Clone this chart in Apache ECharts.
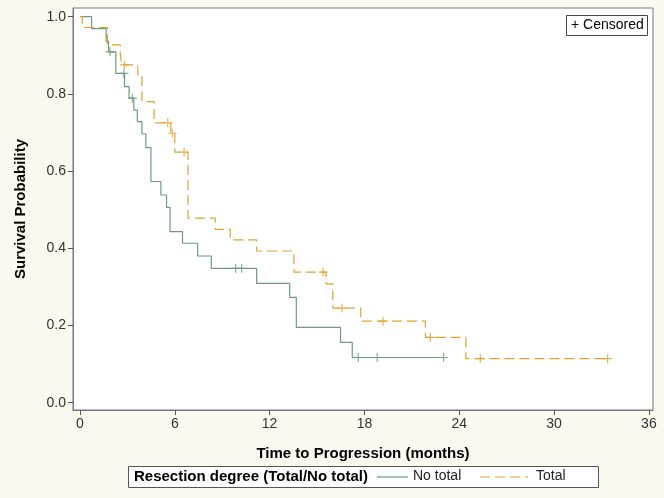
<!DOCTYPE html>
<html>
<head>
<meta charset="utf-8">
<script src="https://cdn.jsdelivr.net/npm/echarts@6/dist/echarts.min.js"></script>
<style>
html,body{margin:0;padding:0;background:#FBF8F0;}
#c{width:664px;height:498px;}
</style>
</head>
<body>
<div id="c"></div>
<script>
// ---- data ----
const noTotalTimes = [0, 0.74, 1.66, 1.81, 2.27, 2.82, 3.11, 3.41, 3.63, 3.92, 4.17, 4.49, 5.12, 5.48, 5.70, 6.49, 7.45, 8.31, 11.18, 13.27, 13.69, 16.49, 17.23, 23.05];
const noTotalSurv  = [1.0, 0.969, 0.936, 0.909, 0.853, 0.819, 0.789, 0.758, 0.728, 0.696, 0.661, 0.573, 0.538, 0.506, 0.443, 0.413, 0.380, 0.348, 0.309, 0.273, 0.195, 0.156, 0.117, 0.117];
const noTotalCensTimes = [1.90, 2.78, 3.32, 9.85, 10.23, 17.61, 18.81, 23.01];
const noTotalCensSurv  = [0.909, 0.853, 0.789, 0.348, 0.348, 0.117, 0.117, 0.117];

const totalTimes = [0, 0.15, 1.74, 2.55, 2.65, 3.66, 3.92, 4.69, 5.75, 6.0, 6.84, 8.56, 9.51, 11.18, 13.54, 15.57, 16.0, 17.77, 21.86, 24.42, 33.39];
const totalSurv  = [1.0, 0.972, 0.927, 0.903, 0.875, 0.849, 0.780, 0.725, 0.698, 0.649, 0.478, 0.449, 0.422, 0.393, 0.338, 0.308, 0.245, 0.211, 0.169, 0.114, 0.114];
const totalCensTimes = [2.81, 5.56, 5.84, 6.59, 15.38, 16.58, 19.18, 22.17, 25.33, 33.39];
const totalCensSurv  = [0.875, 0.725, 0.698, 0.649, 0.338, 0.245, 0.211, 0.169, 0.114, 0.114];

const xTicks = [0, 6, 12, 18, 24, 30, 36];
const yTicks = [0, 0.2, 0.4, 0.6, 0.8, 1.0];
const groupNames = ['No total', 'Total'];
// --------------------------------------

const green = '#6E9B80';
const orange = '#E3A030';
const FONT = '"Liberation Sans", Arial, sans-serif';
const plus = 'path://M5,0 L5,10 M0,5 L10,5';

function zip(a, b) { return a.map((v, i) => [v, b[i]]); }

const chart = echarts.init(document.getElementById('c'), null, {renderer: 'canvas'});
chart.setOption({
  backgroundColor: '#FBF8F0',
  animation: false,
  textStyle: {fontFamily: FONT},
  grid: {left: 73, right: 11, top: 8, bottom: 88, show: true, backgroundColor: '#FFFFFF', borderColor: '#7A7A7A', borderWidth: 1},
  xAxis: {
    type: 'value', min: -0.44, max: 36.26,
    name: 'Time to Progression (months)', nameLocation: 'middle', nameGap: 36,
    nameTextStyle: {fontFamily: FONT, fontSize: 15, fontWeight: 'bold', color: '#000'},
    axisLine: {show: true, onZero: false, lineStyle: {color: '#7A7A7A'}},
    axisTick: {show: true, length: 5, customValues: xTicks, lineStyle: {color: '#555'}},
    axisLabel: {customValues: xTicks, margin: 7, fontSize: 14, color: '#333', fontFamily: FONT},
    splitLine: {show: false}
  },
  yAxis: {
    type: 'value', min: -0.019, max: 1.0225,
    name: 'Survival Probability', nameLocation: 'middle', nameGap: 45,
    nameTextStyle: {fontFamily: FONT, fontSize: 15, fontWeight: 'bold', color: '#000'},
    axisLine: {show: true, onZero: false, lineStyle: {color: '#7A7A7A'}},
    axisTick: {show: true, length: 5, customValues: yTicks, lineStyle: {color: '#555'}},
    axisLabel: {customValues: yTicks, margin: 7, fontSize: 14, color: '#333', fontFamily: FONT,
      formatter: v => v.toFixed(1)},
    splitLine: {show: false}
  },
  graphic: [
    {type: 'rect', left: 128, top: 466, shape: {width: 470, height: 21},
      style: {fill: '#FFFFFF', stroke: '#555', lineWidth: 1}, z: -1},
    {type: 'text', left: 134, top: 469,
      style: {text: 'Resection degree (Total/No total)', font: 'bold 15px ' + FONT, fill: '#000'}},
    {type: 'line', shape: {x1: 377, y1: 477, x2: 408, y2: 477},
      style: {stroke: green, lineWidth: 1.2}},
    {type: 'text', left: 413, top: 469,
      style: {text: groupNames[0], font: '14px ' + FONT, fill: '#222'}},
    {type: 'line', shape: {x1: 480, y1: 477, x2: 528, y2: 477},
      style: {stroke: orange, lineWidth: 1.2, lineDash: [10, 5]}},
    {type: 'text', left: 536, top: 469,
      style: {text: groupNames[1], font: '14px ' + FONT, fill: '#222'}},
    {type: 'rect', left: 566, top: 15, shape: {width: 81, height: 20},
      style: {fill: '#FFFFFF', stroke: '#444', lineWidth: 1}, z: 10},
    {type: 'text', left: 571, top: 18, z: 11,
      style: {text: '+ Censored', font: '14px ' + FONT, fill: '#000'}}
  ],
  series: [
    {name: groupNames[0], type: 'line', step: 'end', showSymbol: false, symbol: 'none',
      data: zip(noTotalTimes, noTotalSurv), lineStyle: {color: green, width: 1.2}, itemStyle: {color: green}},
    {name: groupNames[1], type: 'line', step: 'end', showSymbol: false, symbol: 'none',
      data: zip(totalTimes, totalSurv), lineStyle: {color: orange, width: 1.2, type: [10, 5]}, itemStyle: {color: orange}},
    {name: 'cens0', type: 'scatter', symbol: plus, symbolSize: 9,
      data: zip(noTotalCensTimes, noTotalCensSurv),
      itemStyle: {color: 'rgba(0,0,0,0)', borderColor: green, borderWidth: 1.2}},
    {name: 'cens1', type: 'scatter', symbol: plus, symbolSize: 9,
      data: zip(totalCensTimes, totalCensSurv),
      itemStyle: {color: 'rgba(0,0,0,0)', borderColor: orange, borderWidth: 1.2}}
  ]
});
</script>
</body>
</html>
